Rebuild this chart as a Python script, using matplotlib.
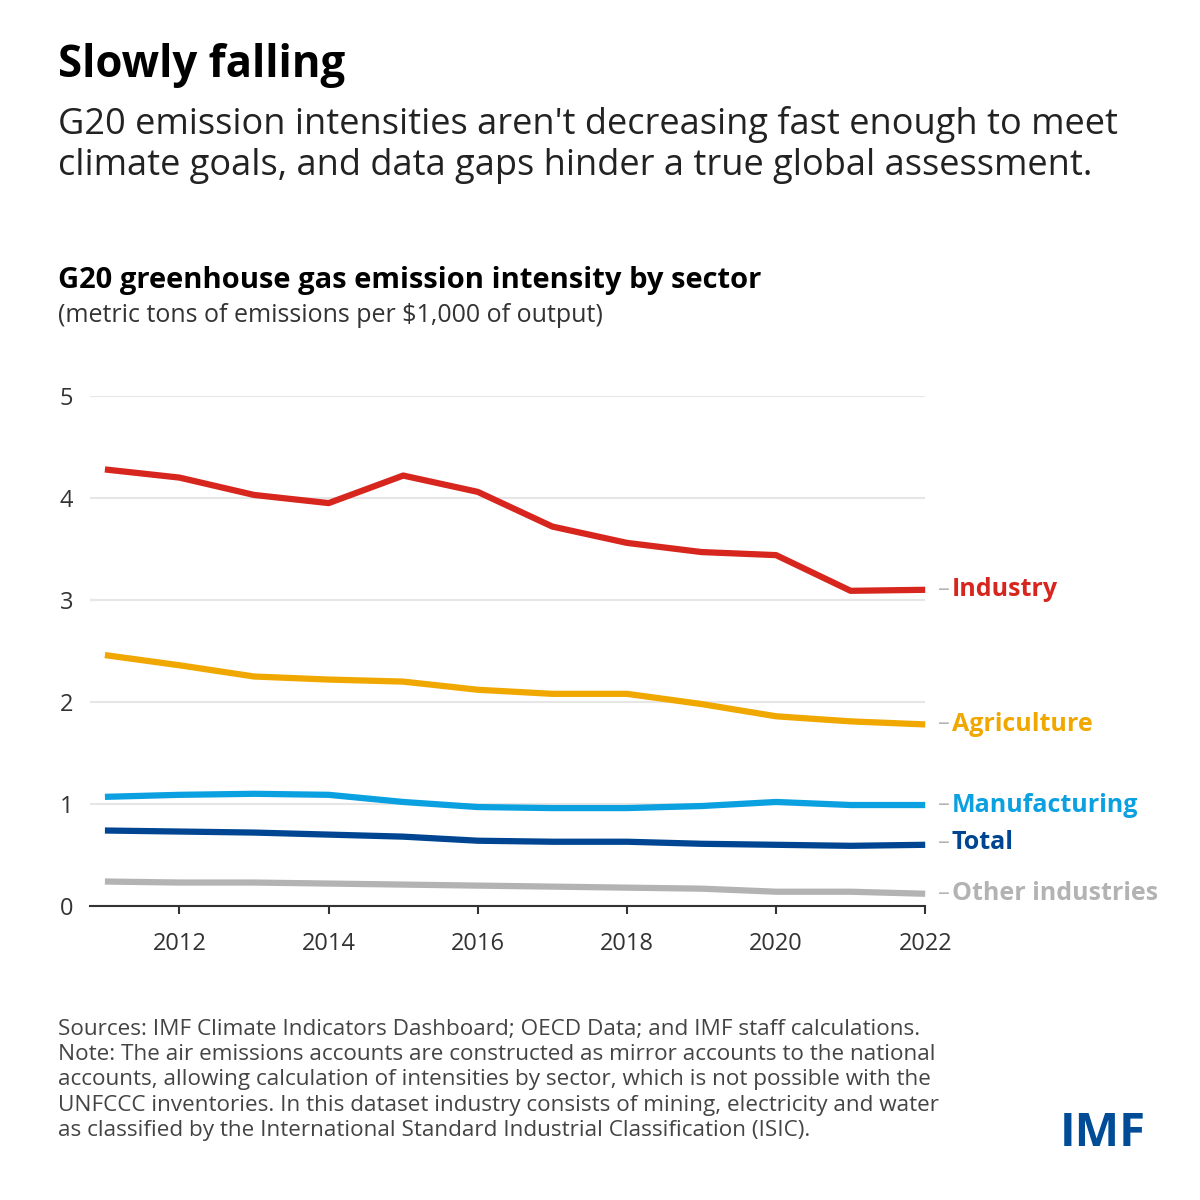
import matplotlib
matplotlib.use("Agg")
import matplotlib.pyplot as plt

years = list(range(2011, 2023))
industry = [4.28, 4.20, 4.03, 3.95, 4.22, 4.06, 3.72, 3.56, 3.47, 3.44, 3.09, 3.10]
agriculture = [2.46, 2.36, 2.25, 2.22, 2.20, 2.12, 2.08, 2.08, 1.98, 1.86, 1.81, 1.78]
manufacturing = [1.07, 1.09, 1.10, 1.09, 1.02, 0.97, 0.96, 0.96, 0.98, 1.02, 0.99, 0.99]
total = [0.74, 0.73, 0.72, 0.70, 0.68, 0.64, 0.63, 0.63, 0.61, 0.60, 0.59, 0.60]
other = [0.24, 0.23, 0.23, 0.22, 0.21, 0.20, 0.19, 0.18, 0.17, 0.14, 0.14, 0.12]
series_names = ["Industry", "Agriculture", "Manufacturing", "Total", "Other industries"]
label_y = [3.10, 1.78, 0.99, 0.62, 0.12]
colors = ["#d7261e", "#f0a800", "#0ba0e0", "#004591", "#b3b3b3"]

plt.rcParams['font.family'] = ['Open Sans', 'DejaVu Sans']
fig = plt.figure(figsize=(12, 12), dpi=100)
ax = fig.add_axes([0.075, 0.245, 0.696, 0.425])
for vals, c in zip([industry, agriculture, manufacturing, total, other], colors):
    ax.plot(years, vals, color=c, lw=4.5, solid_capstyle='butt', clip_on=False, zorder=3)
ax.set_xlim(2010.8, 2022)
ax.set_ylim(0, 5)
ax.set_yticks([0, 1, 2, 3, 4, 5])
ax.set_xticks([2012, 2014, 2016, 2018, 2020, 2022])
ax.grid(axis='y', color='#e6e6e6', lw=1.5)
ax.set_axisbelow(True)
for s in ['top', 'right', 'left']:
    ax.spines[s].set_visible(False)
ax.spines['bottom'].set_color('#333333')
ax.spines['bottom'].set_linewidth(1.5)
ax.tick_params(axis='y', length=0, labelsize=17, colors='#333333', pad=12)
ax.tick_params(axis='x', length=6, width=1.5, labelsize=17, colors='#333333', pad=13)
for name, y, c in zip(series_names, label_y, colors):
    ax.annotate("–", xy=(1.0, y), xycoords=('axes fraction', 'data'), xytext=(9, 0),
                textcoords='offset points', color='#b3b3b3', fontsize=17, va='center')
    ax.annotate(name, xy=(1.0, y), xycoords=('axes fraction', 'data'), xytext=(19, 0),
                textcoords='offset points', color=c, fontsize=18, fontweight='bold', va='center')

fig.text(0.048, 0.945, "Slowly falling", fontsize=31.5, fontweight='bold', va='center')
fig.text(0.048, 0.879, "G20 emission intensities aren't decreasing fast enough to meet\nclimate goals, and data gaps hinder a true global assessment.",
         fontsize=26, va='center', linespacing=1.2, color='#222222')
fig.text(0.048, 0.766, "G20 greenhouse gas emission intensity by sector", fontsize=21, fontweight='bold', va='center')
fig.text(0.048, 0.737, "(metric tons of emissions per $1,000 of output)", fontsize=18, va='center', color='#333333')
fig.text(0.048, 0.1, "Sources: IMF Climate Indicators Dashboard; OECD Data; and IMF staff calculations.\n"
         "Note: The air emissions accounts are constructed as mirror accounts to the national\n"
         "accounts, allowing calculation of intensities by sector, which is not possible with the\n"
         "UNFCCC inventories. In this dataset industry consists of mining, electricity and water\n"
         "as classified by the International Standard Industrial Classification (ISIC).",
         fontsize=16.2, va='center', color='#444444', linespacing=1.27)
fig.text(0.955, 0.055, "IMF", fontsize=34, fontweight='bold', color='#004c97', ha='right', va='center')
fig.savefig("out.png", dpi=100, facecolor='white')
